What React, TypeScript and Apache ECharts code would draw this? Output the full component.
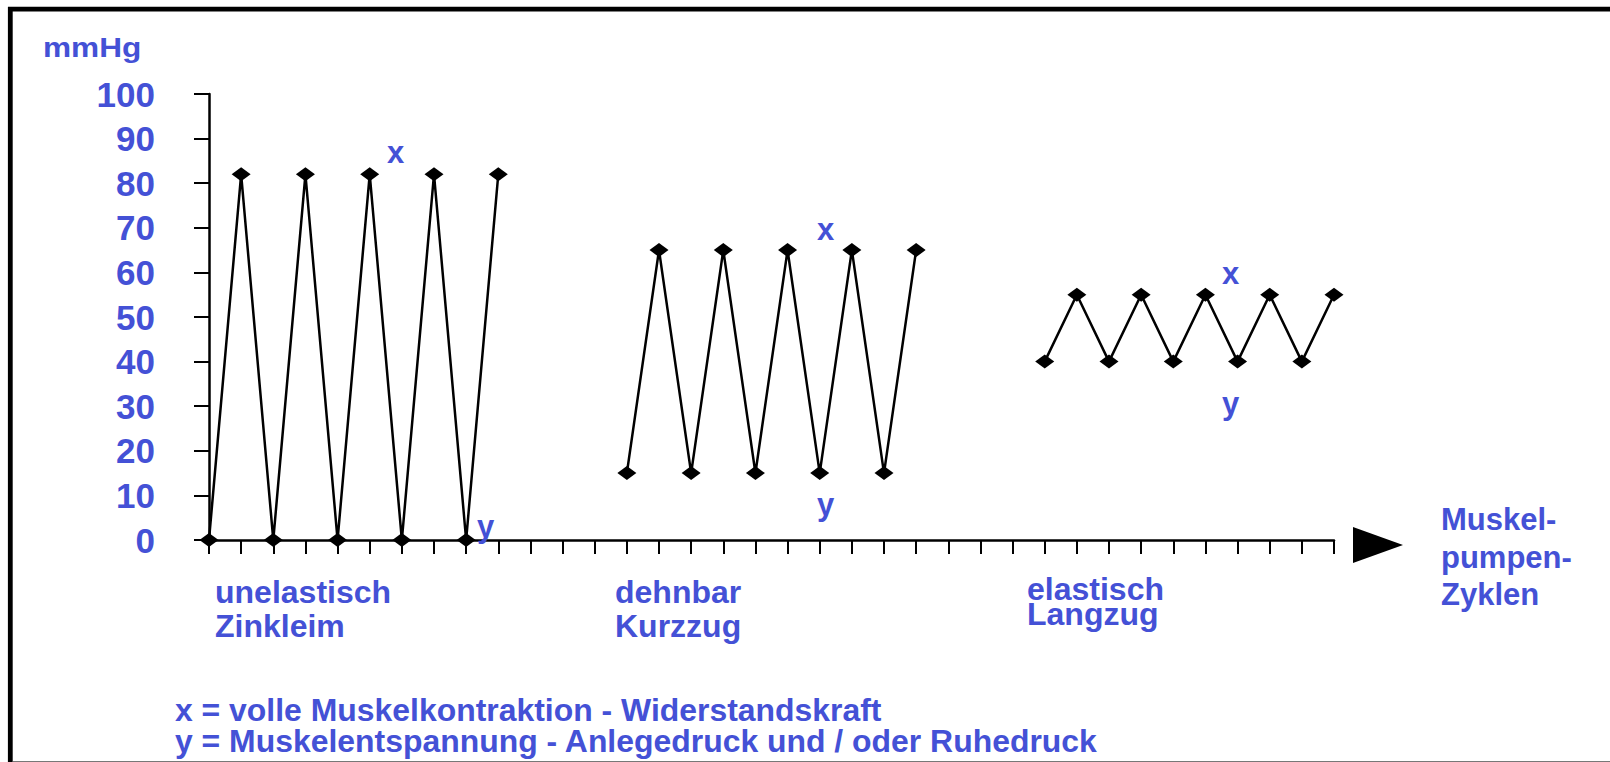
import React, { useEffect, useRef } from "react";
import * as echarts from "echarts";

// Cycle indices (x) and pressures in mmHg (y) for each bandage type
const unelastischCycles = [0, 1, 2, 3, 4, 5, 6, 7, 8, 9];
const unelastischValues = [0, 82, 0, 82, 0, 82, 0, 82, 0, 82];
const dehnbarCycles = [13, 14, 15, 16, 17, 18, 19, 20, 21, 22];
const dehnbarValues = [15, 65, 15, 65, 15, 65, 15, 65, 15, 65];
const elastischCycles = [26, 27, 28, 29, 30, 31, 32, 33, 34, 35];
const elastischValues = [40, 55, 40, 55, 40, 55, 40, 55, 40, 55];

const yTicks = [0, 10, 20, 30, 40, 50, 60, 70, 80, 90, 100];
const xMax = 35;

const BLUE = "#4451D6";
const FONT = "'Liberation Sans', Arial, Helvetica, sans-serif";

const pair = (xs: number[], ys: number[]) => xs.map((x, i) => [x, ys[i]]);

function txt(text: string, x: number, baseline: number, fs: number, sx = 1) {
  return {
    type: "text",
    x,
    y: baseline - 0.3465 * fs,
    scaleX: sx,
    z: 100,
    style: {
      text,
      fill: BLUE,
      font: `bold ${fs}px ${FONT}`,
      textAlign: "left",
      textVerticalAlign: "middle",
      verticalAlign: "middle",
    },
  };
}

export default function App() {
  const ref = useRef<HTMLDivElement>(null);
  useEffect(() => {
    if (!ref.current) return;
    const chart = echarts.init(ref.current, undefined, { renderer: "svg" });
    const lineSeries = (name: string, data: number[][]) => ({
      name,
      type: "line",
      data,
      symbol: "diamond",
      symbolSize: [19, 14],
      lineStyle: { color: "#000", width: 2.5 },
      itemStyle: { color: "#000" },
      z: 3,
    });
    chart.setOption({
      animation: false,
      backgroundColor: "#fff",
      grid: { left: 209, top: 94, right: 276, bottom: 222, containLabel: false },
      xAxis: {
        type: "value",
        min: 0,
        max: xMax,
        interval: 1,
        axisLine: { show: true, onZero: false, lineStyle: { color: "#000", width: 2.5 } },
        axisTick: { show: true, length: 14, lineStyle: { color: "#000", width: 2 } },
        axisLabel: { show: false },
        splitLine: { show: false },
      },
      yAxis: {
        type: "value",
        min: yTicks[0],
        max: yTicks[yTicks.length - 1],
        interval: 10,
        axisLine: { show: true, lineStyle: { color: "#000", width: 2.5 } },
        axisTick: { show: true, length: 15, lineStyle: { color: "#000", width: 2 } },
        axisLabel: {
          color: BLUE,
          fontWeight: "bold",
          fontSize: 35,
          fontFamily: FONT,
          margin: 54,
          padding: [10, 0, 0, 0],
        },
        splitLine: { show: false },
      },
      series: [
        lineSeries("unelastisch", pair(unelastischCycles, unelastischValues)),
        lineSeries("dehnbar", pair(dehnbarCycles, dehnbarValues)),
        lineSeries("elastisch", pair(elastischCycles, elastischValues)),
      ],
      graphic: [
        {
          type: "rect",
          shape: { x: 10.3, y: 9.2, width: 1700, height: 900 },
          style: { fill: "none", stroke: "#000", lineWidth: 4.8 },
          z: 1,
        },
        {
          type: "line",
          shape: { x1: 13, y1: 761.5, x2: 1610, y2: 761.5 },
          style: { stroke: "#777", lineWidth: 1 },
        },
        {
          type: "polygon",
          shape: { points: [[1353, 527], [1403, 545], [1353, 563]] },
          style: { fill: "#000" },
        },
        txt("mmHg", 43, 56.7, 28, 1.13),
        txt("x", 387, 163, 31),
        txt("y", 477, 537, 31),
        txt("x", 817, 240, 31),
        txt("y", 817, 515, 31),
        txt("x", 1222, 284, 31),
        txt("y", 1222, 414, 31),
        txt("unelastisch", 215, 603, 32),
        txt("Zinkleim", 215, 637, 32),
        txt("dehnbar", 615, 603, 32),
        txt("Kurzzug", 615, 637, 32),
        txt("elastisch", 1027, 600, 32),
        txt("Langzug", 1027, 625, 32),
        txt("Muskel-", 1441, 530, 31),
        txt("pumpen-", 1441, 568, 31),
        txt("Zyklen", 1441, 605, 31),
        txt("x = volle Muskelkontraktion - Widerstandskraft", 175, 721.7, 31, 1.03),
        txt("y = Muskelentspannung - Anlegedruck und / oder Ruhedruck", 175, 752.7, 31, 1.03),
      ],
    });
    return () => chart.dispose();
  }, []);
  return (
    <div
      ref={ref}
      style={{ position: "absolute", left: 0, top: 0, width: 1610, height: 762 }}
    />
  );
}
